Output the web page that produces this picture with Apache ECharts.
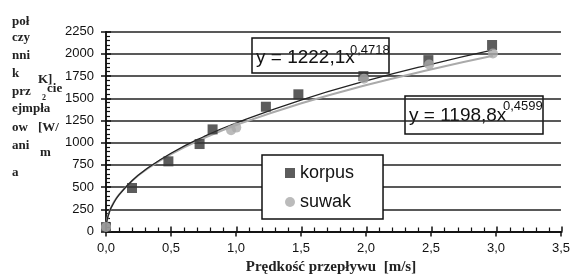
<!DOCTYPE html>
<html>
<head>
<meta charset="utf-8">
<script src="https://cdn.jsdelivr.net/npm/echarts@6/dist/echarts.min.js"></script>
<style>
  html, body { margin: 0; padding: 0; background: #fff; }
  #chart { width: 573px; height: 277px; }
</style>
</head>
<body>
<div id="chart"></div>
<script>
// punkty pomiarowe - korpus
var korpusX = [0.0, 0.2, 0.48, 0.72, 0.82, 1.23, 1.48, 1.98, 2.48, 2.97];
var korpusY = [50, 490, 790, 985, 1150, 1405, 1545, 1750, 1930, 2100];
// punkty pomiarowe - suwak
var suwakX = [0.0, 0.96, 1.0, 1.98, 2.48, 2.97];
var suwakY = [50, 1140, 1170, 1720, 1880, 2005];
// linie trendu
var trendX = [0.003, 0.01, 0.03, 0.05, 0.1, 0.2, 0.3, 0.5, 0.75, 1.0, 1.5, 2.0, 2.5, 2.97];
var trendKorpus = [80, 140, 235, 297, 412, 572, 692, 881, 1067, 1222, 1480, 1695, 1883, 2042];
var trendSuwak = [83, 144, 240, 302, 416, 572, 689, 872, 1050, 1199, 1444, 1649, 1827, 1978];

function pairs(xs, ys) {
    var out = [];
    for (var i = 0; i < xs.length; i++) out.push([xs[i], ys[i]]);
    return out;
}

var chart = echarts.init(document.getElementById('chart'));
var font = 'Liberation Sans, Arial, sans-serif';
var serif = 'Liberation Serif, Times New Roman, serif';

// tytul osi Y - poszarpany jak w oryginale
var yTitle = [
    ['poł', 12, 22], ['czy', 12, 38], ['nni', 12, 56], ['k', 12, 74], ['K]', 38, 80],
    ['prz', 12, 92], ['cie', 47, 89], ['ejmpła', 12, 109], ['ow', 12, 128], ['[W/', 38, 128],
    ['ani', 12, 146], ['m', 40, 153], ['a', 12, 173]
];
var graphics = yTitle.map(function (t) {
    return {
        type: 'text', x: t[1], y: t[2],
        style: { text: t[0], font: 'bold 13px ' + serif, fill: '#222', textVerticalAlign: 'middle' }
    };
});
graphics.push({
    type: 'text', x: 42, y: 98,
    style: { text: '2', font: 'bold 8px ' + serif, fill: '#222', textVerticalAlign: 'middle' }
});
graphics.push({
    type: 'text', x: 331, y: 267,
    style: { text: 'Prędkość przepływu  [m/s]', font: 'bold 15px ' + serif, fill: '#222',
             textAlign: 'center', textVerticalAlign: 'middle' }
});
// ramki z rownaniami
function eqBox(x, y, w, h, main, sup, supDy) {
    return {
        type: 'group', x: x, y: y, z: 20,
        children: [
            { type: 'rect', shape: { x: 0, y: 0, width: w, height: h },
              style: { fill: '#fff', stroke: '#111', lineWidth: 1.5 } },
            { type: 'text', x: 4, y: 19.5,
              style: { text: main, font: '19px ' + font, fill: '#111', textVerticalAlign: 'middle' } },
            { type: 'text', x: 98, y: supDy,
              style: { text: sup, font: '13px ' + font, fill: '#111', textVerticalAlign: 'middle' } }
        ]
    };
}
graphics.push(eqBox(252, 38, 137, 35, 'y = 1222,1x', '0,4718', 12.5));
graphics.push(eqBox(405, 96, 138, 38, 'y = 1198,8x', '0,4599', 10.5));

var labelFmt = function (v) { return v.toFixed(1).replace('.', ','); };
var gridPos = { left: 106, right: 11, top: 31.7, bottom: 45.5 };
var tickStyle = { color: '#111', width: 1.5 };

var option = {
    animation: false,
    grid: [gridPos, gridPos],
    legend: {
        data: [
            { name: 'korpus', icon: 'rect' },
            { name: 'suwak', icon: 'circle' }
        ],
        orient: 'vertical', left: 262, top: 155,
        itemWidth: 10, itemHeight: 10, itemGap: 11,
        padding: [9, 29, 8, 23],
        backgroundColor: '#fff', borderColor: '#111', borderWidth: 1.5,
        textStyle: { fontSize: 18, fontFamily: font, color: '#111' },
        z: 20
    },
    // os 0: etykiety i glowne podzialki na zewnatrz, os 1: podzialki wewnatrz + pomocnicze
    xAxis: [{
        type: 'value', min: 0, max: 3.5, interval: 0.5, gridIndex: 0,
        axisLine: { lineStyle: tickStyle },
        axisTick: { show: true, length: 5, lineStyle: tickStyle },
        splitLine: { show: false },
        axisLabel: { formatter: labelFmt, fontSize: 13, fontFamily: font, color: '#111', margin: 10 }
    }, {
        type: 'value', min: 0, max: 3.5, interval: 0.5, gridIndex: 1, position: 'bottom',
        axisLine: { show: true, lineStyle: tickStyle },
        axisTick: { show: true, inside: true, length: 5, lineStyle: tickStyle },
        minorTick: { show: true, splitNumber: 5, length: 4, lineStyle: { color: '#111', width: 1.2 } },
        splitLine: { show: false },
        axisLabel: { show: false }
    }],
    yAxis: [{
        type: 'value', min: 0, max: 2250, interval: 250, gridIndex: 0,
        axisLine: { show: true, lineStyle: tickStyle },
        axisTick: { show: true, length: 5, lineStyle: tickStyle },
        splitLine: { show: true, lineStyle: { color: '#222', width: 1.5 } },
        axisLabel: { formatter: function (v) { return String(v); },
                     fontSize: 13, fontFamily: font, color: '#111', margin: 12 }
    }, {
        type: 'value', min: 0, max: 2250, interval: 250, gridIndex: 1, position: 'left',
        axisLine: { show: true, lineStyle: tickStyle },
        axisTick: { show: true, inside: true, length: 5, lineStyle: tickStyle },
        minorTick: { show: true, splitNumber: 5, length: 4, lineStyle: { color: '#111', width: 1.2 } },
        splitLine: { show: false },
        axisLabel: { show: false }
    }],
    series: [{
        name: 'trend korpus', type: 'line', data: pairs(trendX, trendKorpus),
        showSymbol: false, smooth: true, lineStyle: { color: '#222', width: 1.3 }, z: 3
    }, {
        name: 'trend suwak', type: 'line', data: pairs(trendX, trendSuwak),
        xAxisIndex: 1, yAxisIndex: 1,
        showSymbol: false, smooth: true, lineStyle: { color: '#aaa', width: 2 }, z: 2
    }, {
        name: 'korpus', type: 'scatter', data: pairs(korpusX, korpusY),
        symbol: 'rect', symbolSize: 10, itemStyle: { color: '#333' }, z: 4
    }, {
        name: 'suwak', type: 'scatter', data: pairs(suwakX, suwakY),
        xAxisIndex: 1, yAxisIndex: 1,
        symbol: 'circle', symbolSize: 10, itemStyle: { color: '#aaa' }, z: 5
    }],
    graphic: graphics
};
chart.setOption(option);
</script>
</body>
</html>
